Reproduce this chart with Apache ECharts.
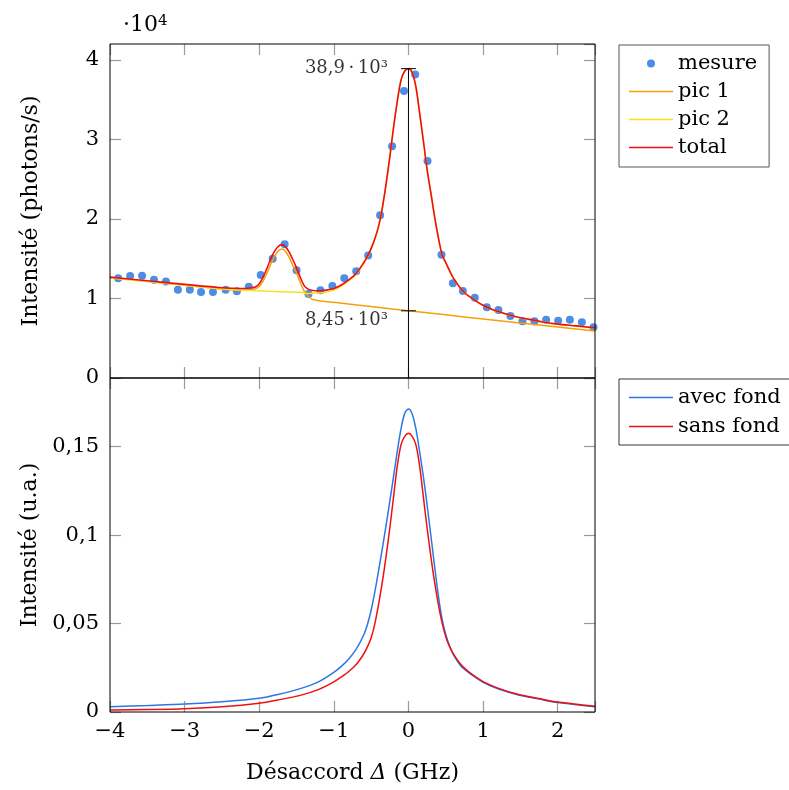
<!DOCTYPE html>
<html><head><meta charset="utf-8">
<script src="https://cdn.jsdelivr.net/npm/echarts@6/dist/echarts.min.js"></script>
<style>html,body{margin:0;padding:0;background:#fff}#c{width:789px;height:790px}</style>
</head><body><div id="c"></div>
<script>
// ---- data ----
const mesureX = [-3.89,-3.73,-3.57,-3.41,-3.25,-3.09,-2.93,-2.78,-2.62,-2.45,-2.30,-2.14,-1.98,-1.82,-1.66,-1.50,-1.34,-1.18,-1.02,-0.86,-0.70,-0.54,-0.38,-0.22,-0.06,0.09,0.255,0.443,0.595,0.729,0.889,1.05,1.206,1.367,1.528,1.689,1.845,2.006,2.163,2.324,2.48];
const mesureY = [12540,12830,12870,12370,12120,11110,11110,10820,10820,11110,10900,11490,12960,15010,16810,13540,10570,11030,11570,12540,13420,15390,20460,29140,36100,38150,27290,15510,11910,10940,10100,8890,8550,7800,7130,7130,7340,7210,7340,7000,6370];

const totalX = [-4,-3.5,-3,-2.5,-2.25,-2.15,-2.1,-2.05,-2.0,-1.95,-1.9,-1.85,-1.8,-1.75,-1.7,-1.65,-1.6,-1.55,-1.5,-1.45,-1.4,-1.35,-1.3,-1.25,-1.2,-1.1,-1.0,-0.9,-0.8,-0.7,-0.6,-0.55,-0.5,-0.45,-0.4,-0.35,-0.3,-0.25,-0.2,-0.15,-0.1,-0.05,0,0.05,0.1,0.15,0.2,0.25,0.3,0.35,0.4,0.45,0.5,0.55,0.6,0.65,0.7,0.75,0.8,0.9,1.0,1.1,1.2,1.4,1.6,1.8,2.0,2.25,2.5];
const totalY = [12680,12220,11770,11350,11250,11280,11350,11450,11850,12650,13700,14900,15850,16500,16770,16520,15850,14900,13850,12650,11650,11200,11030,10980,10980,11050,11250,11700,12350,13150,14500,15300,16300,17550,19100,21400,24400,27800,31500,34800,37450,38600,38900,38400,36600,33300,29800,26200,23300,20300,17700,15500,14500,13500,12600,11900,11250,10750,10350,9700,9150,8700,8350,7800,7400,7050,6780,6550,6300];

const pic1X = [-4,-3.5,-3,-2.5,-2.25,-2.15,-2.1,-2.05,-2.0,-1.95,-1.9,-1.85,-1.8,-1.75,-1.7,-1.65,-1.6,-1.55,-1.5,-1.45,-1.4,-1.35,-1.3,-1.25,-1.2,-1.1,-1.0,-0.5,0,0.5,1.0,1.5,2.0,2.5];
const pic1Y = [12650,12150,11670,11180,11030,11030,11080,11200,11500,12150,13100,14200,15200,15900,16230,15950,15200,14150,13200,12000,10950,10300,9950,9800,9700,9600,9520,8980,8450,7940,7430,6920,6410,5900];

const pic2X = [-4,-3.5,-3,-2.5,-2.1,-1.8,-1.45,-1.32,-1.2,-1.1,-1.0,-0.9,-0.8,-0.7,-0.6,-0.55,-0.5,-0.45,-0.4,-0.35,-0.3,-0.25,-0.2,-0.15,-0.1,-0.05,0,0.05,0.1,0.15,0.2,0.25,0.3,0.35,0.4,0.45,0.5,0.55,0.6,0.65,0.7,0.75,0.8,0.9,1.0,1.1,1.2,1.4,1.6,1.8,2.0,2.25,2.5];
const pic2Y = [12580,12120,11650,11200,11000,10870,10770,10630,10680,10800,11050,11550,12230,13030,14400,15210,16220,17480,19040,21350,24360,27770,31470,34780,37430,38580,38880,38380,36580,33280,29780,26180,23280,20280,17680,15480,14480,13480,12580,11880,11230,10730,10330,9680,9130,8680,8330,7780,7380,7030,6760,6530,6270];

const avecX = [-4,-3.5,-3,-2.5,-2,-1.75,-1.45,-1.2,-1.0,-0.9,-0.8,-0.7,-0.6,-0.55,-0.5,-0.45,-0.4,-0.35,-0.3,-0.25,-0.2,-0.15,-0.1,-0.05,0,0.05,0.1,0.15,0.2,0.25,0.3,0.35,0.4,0.45,0.5,0.55,0.6,0.7,0.8,0.9,1.0,1.2,1.45,1.75,2.0,2.5];
const avecY = [0.0030,0.0037,0.0045,0.0058,0.0078,0.0099,0.0132,0.0172,0.0224,0.0258,0.0300,0.0355,0.0435,0.0495,0.0575,0.0680,0.0800,0.0925,0.1055,0.1190,0.1330,0.1473,0.1600,0.1688,0.1713,0.1685,0.1600,0.1470,0.1330,0.1170,0.0998,0.0825,0.0660,0.0527,0.0438,0.0374,0.0326,0.0262,0.0225,0.0195,0.0168,0.0131,0.0099,0.0073,0.0053,0.0029];

const sansX = [-4,-3.5,-3,-2.5,-2,-1.75,-1.45,-1.2,-1.0,-0.9,-0.8,-0.7,-0.6,-0.55,-0.5,-0.45,-0.4,-0.35,-0.3,-0.25,-0.2,-0.15,-0.1,-0.05,0,0.05,0.1,0.15,0.2,0.25,0.3,0.35,0.4,0.45,0.5,0.55,0.6,0.7,0.8,0.9,1.0,1.2,1.45,1.75,2.0,2.5];
const sansY = [0.0011,0.0014,0.0019,0.0030,0.0050,0.0068,0.0094,0.0128,0.0170,0.0198,0.0229,0.0268,0.0328,0.0368,0.0420,0.0500,0.0610,0.0735,0.0880,0.1040,0.1215,0.1390,0.1510,0.1558,0.1575,0.1558,0.1510,0.1390,0.1215,0.1040,0.0880,0.0735,0.0610,0.0505,0.0425,0.0370,0.0330,0.0270,0.0230,0.0199,0.0172,0.0135,0.0102,0.0076,0.0056,0.0032];

const peakX = 0, peakY = 38900, baseY = 8450;
const peakLabel = '38,9\u2009·\u200910³';
const baseLabel = '8,45\u2009·\u200910³';

// ---- chart ----
const FONT = 'DejaVu Serif';
const zip = (xs, ys) => xs.map((x, i) => [x, ys[i]]);
const C = {mesure:'#2070e2', pic1:'#f5a00a', pic2:'#fbe01a', total:'#ee1010', avec:'#2a78e4', sans:'#ee1010'};
const tickStyle = {show:true, inside:true, length:11, lineStyle:{color:'#9a9a9a', width:1.2}};
const fmtX = v => { if (Math.abs(v - Math.round(v)) > 1e-6) return ''; return v < 0 ? '\u2212' + (-v) : String(v); };
const fmtYTop = v => (v % 10000 === 0) ? String(v / 10000) : '';
const fmtYBot = v => { const r = Math.round(v * 1000) / 1000; if (Math.abs(r * 20 - Math.round(r * 20)) > 1e-6) return ''; return r === 0 ? '0' : String(r).replace('.', ','); };
const labelStyle = {fontFamily: FONT, fontSize: 21, color: '#000'};

function xAx(grid, pos, labels) {
  return {type:'value', gridIndex:grid, position:pos, min:-4, max:2.5, interval:1,
    axisLine:{show:false, onZero:false},
    axisTick: tickStyle, splitLine:{show:false},
    axisLabel: labels ? Object.assign({show:true, margin:9, formatter: fmtX}, labelStyle) : {show:false}};
}
function yAx(grid, pos, min, max, interval, fmt, labels) {
  return {type:'value', gridIndex:grid, position:pos, min:min, max:max, interval:interval,
    axisLine:{show:false, onZero:false},
    axisTick: tickStyle, splitLine:{show:false},
    axisLabel: labels ? Object.assign({show:true, margin:11, formatter: fmt, showMaxLabel:false}, labelStyle) : {show:false}};
}

const xAxes = [xAx(0,'bottom',false), xAx(0,'top',false), xAx(1,'bottom',true), xAx(1,'top',false)];
Object.assign(xAxes[2], {name:'{n|Désaccord }{i|Δ}{n| (GHz)}', nameLocation:'middle', nameGap:50,
  nameTextStyle:{rich:{n:{fontFamily:FONT, fontSize:22, color:'#000'}, i:{fontFamily:FONT, fontSize:22, fontStyle:'italic', color:'#000'}}}});
const yAxes = [yAx(0,'left',0,42000,10000,fmtYTop,true), yAx(0,'right',0,42000,10000,null,false),
               yAx(1,'left',0,0.1888,0.05,fmtYBot,true), yAx(1,'right',0,0.1888,0.05,null,false)];
Object.assign(yAxes[0], {name:'Intensité (photons/s)', nameLocation:'middle', nameGap:68, nameTextStyle:{fontFamily:FONT, fontSize:22, color:'#000'}});
Object.assign(yAxes[2], {name:'Intensité (u.a.)', nameLocation:'middle', nameGap:68, nameTextStyle:{fontFamily:FONT, fontSize:22, color:'#000'}});

const lineS = (name, xs, ys, color, xi, yi, w) => ({name, type:'line', xAxisIndex:xi, yAxisIndex:yi, data: zip(xs, ys),
  symbol:'none', showSymbol:false, smooth:0.3, lineStyle:{color, width:w || 1.5}, itemStyle:{color}, silent:true});
const blk = (data) => ({type:'line', xAxisIndex:0, yAxisIndex:0, data, symbol:'none', lineStyle:{color:'#000', width:1}, silent:true});
const LINE_ICON = 'path://M0,0L44,0L44,1.6L0,1.6Z';

const option = {
  animation:false,
  backgroundColor:'#fff',
  title:{text:'{a|·10}{s|4}', left:118, top:9,
    textStyle:{fontWeight:'normal', rich:{a:{fontFamily:FONT, fontSize:22, fontWeight:'normal', color:'#000', verticalAlign:'bottom'}, s:{fontFamily:FONT, fontSize:15, fontWeight:'normal', color:'#000', verticalAlign:'top'}}}},
  grid:[{left:110, top:44, width:485, height:334, show:true, z:5, borderColor:'#000', borderWidth:1, backgroundColor:'transparent'},
        {left:110, top:378, width:485, height:334, show:true, z:5, borderColor:'#000', borderWidth:1, backgroundColor:'transparent'}],
  xAxis: xAxes, yAxis: yAxes,
  legend:[
    {data:[{name:'mesure', icon:'circle'}, {name:'pic 1', icon:LINE_ICON}, {name:'pic 2', icon:LINE_ICON}, {name:'total', icon:LINE_ICON}],
     orient:'vertical', left:619, top:45,
     padding:[8,12,9,10], itemWidth:44, itemHeight:8, itemGap:7, borderColor:'#555', borderWidth:1,
     textStyle:{fontFamily:FONT, fontSize:21, color:'#000'}, selectedMode:false},
    {data:[{name:'avec fond', icon:LINE_ICON}, {name:'sans fond', icon:LINE_ICON}], orient:'vertical', left:619, top:379,
     padding:[8,12,8,10], itemWidth:44, itemHeight:8, itemGap:8, borderColor:'#333', borderWidth:1,
     textStyle:{fontFamily:FONT, fontSize:21, color:'#000'}, selectedMode:false}
  ],
  series:[
    {name:'mesure', type:'scatter', xAxisIndex:0, yAxisIndex:0, data: zip(mesureX, mesureY), symbol:'circle', symbolSize:8, itemStyle:{color:C.mesure}, silent:true},
    lineS('pic 1', pic1X, pic1Y, C.pic1, 0, 0),
    lineS('pic 2', pic2X, pic2Y, C.pic2, 0, 0),
    lineS('total', totalX, totalY, C.total, 0, 0, 1.6),
    blk([[peakX, 0], [peakX, peakY]]),
    blk([[peakX - 0.1, peakY], [peakX + 0.1, peakY]]),
    blk([[peakX - 0.1, baseY], [peakX + 0.1, baseY]]),
    {type:'scatter', xAxisIndex:0, yAxisIndex:0, symbolSize:0.01, silent:true,
     data:[{value:[peakX - 0.1, peakY], label:{show:true, position:'left', distance:13, formatter:peakLabel}},
           {value:[peakX - 0.1, baseY], label:{show:true, position:'left', distance:13, offset:[0,10], formatter:baseLabel}}],
     label:{fontFamily:FONT, fontSize:18, color:'#000'}},
    lineS('avec fond', avecX, avecY, C.avec, 2, 2),
    lineS('sans fond', sansX, sansY, C.sans, 2, 2)
  ]
};
echarts.init(document.getElementById('c'), null, {renderer:'canvas'}).setOption(option);
</script></body></html>
